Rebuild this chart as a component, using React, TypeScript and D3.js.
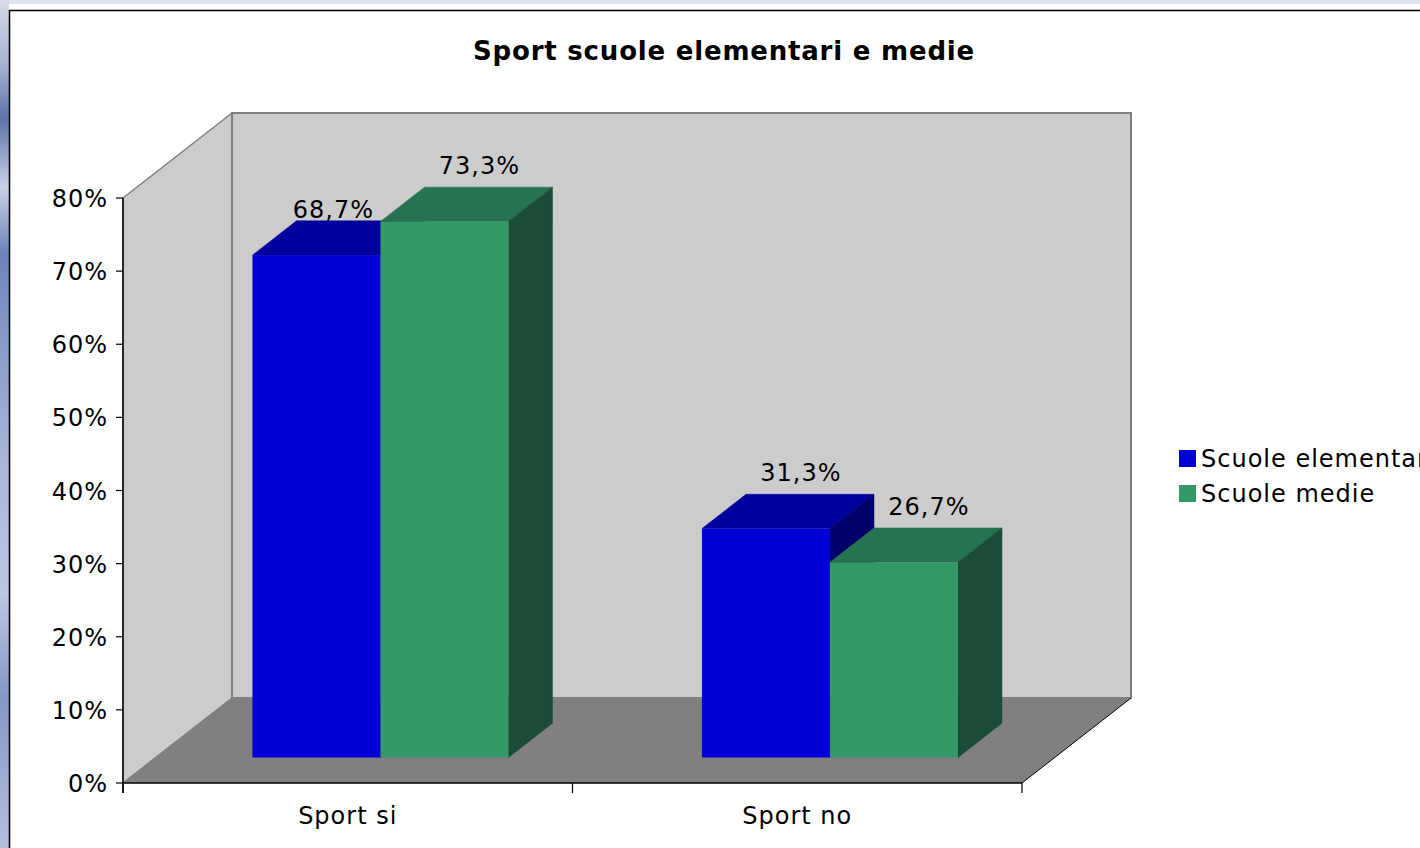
import React from "react";
import * as d3 from "d3";

const categories = ["Sport si", "Sport no"];
const seriesNames = ["Scuole elementari", "Scuole medie"];
const elementari = [0.687, 0.313];
const medie = [0.733, 0.267];
const yTicks = [0, 0.1, 0.2, 0.3, 0.4, 0.5, 0.6, 0.7, 0.8];
const valueLabels = [["68,7%", "31,3%"], ["73,3%", "26,7%"]];

const W = 1420;
const H = 848;
const FONT = "'DejaVu Sans', Verdana, sans-serif";
const LS = 1;

const colors = [
  { front: "#0000d6", top: "#00009c", side: "#00006b" },
  { front: "#339966", top: "#257350", side: "#1b4c35" },
];

export default function App() {
  const series = [elementari, medie];
  const x0 = 123, x1 = 1022;
  const yBase = 783;
  const y = d3.scaleLinear().domain([0, 0.8]).range([yBase, 198]);
  const x = d3.scaleBand().domain(categories).range([x0, x1]).paddingInner(0).paddingOuter(0);
  const depth = d3.scaleLinear().domain([0, 1]).range([0, 1]);
  const DX = 109, DY = -85;
  const off = (f: number) => [DX * depth(f), DY * depth(f)];
  const barFront = 0.3, barBack = 0.704;
  const groupW = 256;
  const xs = d3.scaleBand().domain(seriesNames).range([0, groupW]).padding(0);

  const [bdx, bdy] = off(barFront);
  const [kdx, kdy] = off(barBack);
  const sdx = kdx - bdx, sdy = kdy - bdy;

  const pts = (p: number[][]) => p.map((q) => q.join(",")).join(" ");

  const bars: any[] = [];
  const labels: any[] = [];
  categories.forEach((c, ci) => {
    const gx = (x(c) as number) + x.bandwidth() / 2 - groupW / 2;
    series.forEach((vals, si) => {
      const v = vals[ci];
      const lx = gx + (xs(seriesNames[si]) as number) + bdx;
      const rx = lx + xs.bandwidth();
      const by = y(0) + bdy;
      const ty = y(v) + bdy;
      const col = colors[si];
      bars.push(
        <g key={`b${ci}${si}`}>
          <polygon points={pts([[lx, ty], [rx, ty], [rx + sdx, ty + sdy], [lx + sdx, ty + sdy]])} fill={col.top} stroke={col.top} strokeWidth={0.5} />
          <polygon points={pts([[rx, ty], [rx + sdx, ty + sdy], [rx + sdx, by + sdy], [rx, by]])} fill={col.side} stroke={col.side} strokeWidth={0.5} />
          <rect x={lx} y={ty} width={rx - lx} height={by - ty} fill={col.front} />
        </g>
      );
      const next = series[si + 1];
      let cx = (lx + rx) / 2 + 35;
      let bl = ty + sdy - 13;
      if (next && next[ci] > v) {
        cx = (lx + rx) / 2 + 17;
        bl = ty - 37;
      }
      labels.push(
        <text key={`l${ci}${si}`} x={cx} y={bl} textAnchor="middle" fontSize={24} letterSpacing={LS} fontFamily={FONT} fill="#000">
          {valueLabels[si][ci]}
        </text>
      );
    });
  });

  const top = y(0.8);
  return (
    <svg width={W} height={H} style={{ position: "absolute", left: 0, top: 0, background: "#fff" }}>
      <defs>
        <linearGradient id="photo" x1="0" y1="0" x2="0" y2="1">
          <stop offset="0" stopColor="#d5dbe8" />
          <stop offset="0.08" stopColor="#a3b1cf" />
          <stop offset="0.14" stopColor="#5b72a8" />
          <stop offset="0.22" stopColor="#c9d2e6" />
          <stop offset="0.3" stopColor="#6b83b9" />
          <stop offset="0.42" stopColor="#8b9ecb" />
          <stop offset="0.55" stopColor="#a8b6d8" />
          <stop offset="0.7" stopColor="#bcc7e2" />
          <stop offset="0.82" stopColor="#8597c6" />
          <stop offset="1" stopColor="#b4bfdc" />
        </linearGradient>
      </defs>
      <rect x={0} y={0} width={W} height={4} fill="#dfe3ef" />
      <rect x={0} y={0} width={9} height={H} fill="url(#photo)" />
      <line x1={9} y1={10.5} x2={W} y2={10.5} stroke="#000" strokeWidth={1.5} />
      <line x1={9.5} y1={10} x2={9.5} y2={H} stroke="#000" strokeWidth={1.5} />

      <text x={724} y={60} textAnchor="middle" fontSize={26} letterSpacing={0.8} fontWeight="bold" fontFamily={FONT} fill="#000">
        Sport scuole elementari e medie
      </text>

      <polygon points={pts([[x0, top], [x0 + DX, top + DY], [x0 + DX, yBase + DY], [x0, yBase]])} fill="#cccccc" stroke="#808080" strokeWidth={1.5} />
      <polygon points={pts([[x0 + DX, top + DY], [x1 + DX, top + DY], [x1 + DX, yBase + DY], [x0 + DX, yBase + DY]])} fill="#cccccc" stroke="#808080" strokeWidth={2} />
      <polygon points={pts([[x0, yBase], [x0 + DX, yBase + DY], [x1 + DX, yBase + DY], [x1, yBase]])} fill="#808080" />
      <line x1={x1} y1={yBase} x2={x1 + DX} y2={yBase + DY} stroke="#000" strokeWidth={1} />
      <line x1={x0} y1={yBase} x2={x1} y2={yBase} stroke="#000" strokeWidth={1.5} />
      <line x1={x0} y1={top} x2={x0} y2={yBase + 10} stroke="#000" strokeWidth={1.5} />

      {yTicks.map((t) => (
        <g key={t}>
          <line x1={x0 - 7} x2={x0} y1={y(t)} y2={y(t)} stroke="#000" strokeWidth={1.2} />
          <text x={108} y={y(t) + 9} textAnchor="end" fontSize={24} letterSpacing={LS} fontFamily={FONT} fill="#000">
            {d3.format(".0%")(t)}
          </text>
        </g>
      ))}
      {[x0, ...categories.map((c) => (x(c) as number) + x.bandwidth())].map((tx, i) => (
        <line key={i} x1={tx} x2={tx} y1={yBase} y2={yBase + 10} stroke="#000" strokeWidth={1.2} />
      ))}
      {categories.map((c) => (
        <text key={c} x={(x(c) as number) + x.bandwidth() / 2} y={824} textAnchor="middle" fontSize={24} letterSpacing={LS} fontFamily={FONT} fill="#000">
          {c}
        </text>
      ))}

      {bars}
      {labels}

      {seriesNames.map((s, i) => (
        <g key={s} transform={`translate(1179, ${450 + i * 35})`}>
          <rect x={0} y={0} width={17} height={17} fill={colors[i].front} />
          <text x={22} y={17} fontSize={24} letterSpacing={LS} fontFamily={FONT} fill="#000">
            {s}
          </text>
        </g>
      ))}
    </svg>
  );
}
